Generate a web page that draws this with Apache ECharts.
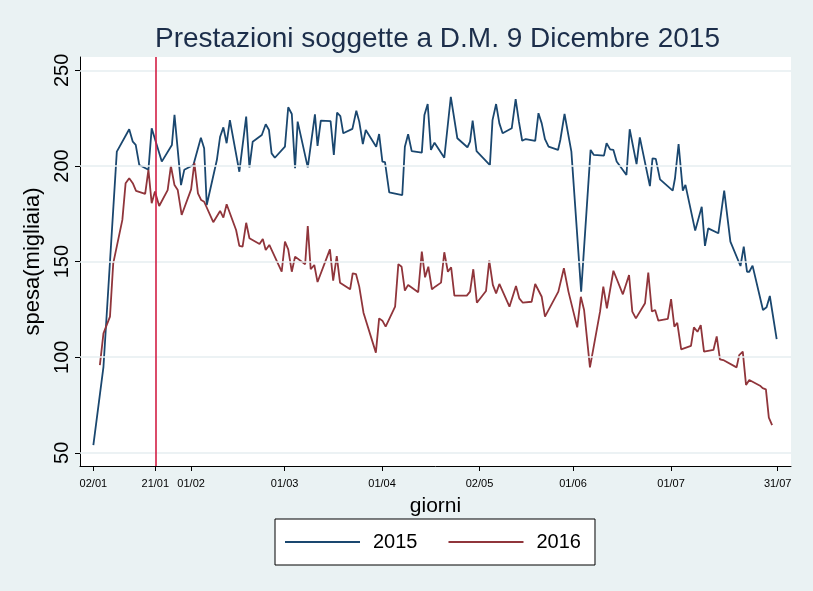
<!DOCTYPE html>
<html>
<head>
<meta charset="utf-8">
<script src="https://cdn.jsdelivr.net/npm/echarts@6/dist/echarts.min.js"></script>
<style>
html,body{margin:0;padding:0;background:#eaf2f3;}
#chart{width:813px;height:591px;}
</style>
</head>
<body>
<div id="chart"></div>
<script>
// ---- data ----
const days2015 = [2, 5.1, 9.2, 13.0, 14.1, 15.0, 16.1, 18.9, 19.9, 23.0, 26.1, 26.9, 28.9, 29.9, 32.7, 35.0, 36.0, 36.8, 39.9, 40.9, 41.9, 42.9, 43.9, 46.8, 48.9, 49.9, 50.9, 53.7, 54.9, 55.9, 56.7, 57.7, 60.8, 61.8, 62.9, 63.9, 64.7, 67.8, 70.0, 70.8, 71.8, 74.8, 75.8, 76.8, 77.8, 78.7, 81.5, 82.7, 83.6, 84.7, 85.6, 88.8, 89.7, 90.7, 91.5, 92.8, 96.8, 97.6, 98.6, 99.7, 102.8, 103.6, 104.6, 105.6, 106.7, 109.7, 111.7, 113.7, 116.8, 117.6, 118.4, 119.6, 123.7, 124.5, 125.6, 126.6, 127.6, 130.4, 131.6, 132.6, 133.6, 134.7, 137.6, 138.6, 139.6, 140.6, 141.7, 144.6, 145.3, 146.6, 148.7, 151.7, 154.6, 155.6, 158.7, 159.5, 160.6, 161.6, 162.6, 165.6, 166.6, 168.7, 169.7, 172.8, 173.6, 174.6, 175.9, 179.8, 180.5, 181.6, 182.9, 183.7, 186.7, 188.7, 189.7, 190.7, 193.8, 195.6, 197.5, 200.6, 201.6, 202.6, 203.3, 204.3, 207.5, 208.6, 209.6, 211.7];
const spesa2015 = [54, 95, 207.5, 219.2, 212.7, 211, 200.5, 198, 219.7, 202.3, 211, 226.7, 190, 198, 200.5, 214.8, 209.3, 179.6, 203.1, 215.3, 220.2, 211.9, 224, 197, 225.8, 199.3, 212.7, 216.2, 221.8, 218.8, 206.6, 204.3, 210.1, 230.7, 227.2, 198.8, 223.2, 199.3, 227, 210.5, 223.7, 223.5, 205.8, 227.9, 226.1, 217.1, 219.4, 228.9, 223.2, 211.5, 218.8, 210.1, 216.7, 202.3, 202, 186.2, 184.8, 210.1, 216.6, 207.8, 207, 226.7, 232.4, 208.4, 212.2, 204.3, 236.2, 214.5, 209.8, 212.7, 223.7, 207.8, 200.5, 224, 232.4, 222.3, 217.1, 219.7, 235, 223.2, 213.2, 214.1, 213.1, 227.6, 222.3, 214, 210.1, 208.4, 213.6, 227.2, 207.5, 134.3, 208.4, 205.8, 205.4, 211.9, 208.7, 208.4, 202.3, 195.3, 219.2, 201, 215, 189.5, 204, 203.7, 193, 187.1, 193.6, 211.5, 187.1, 190.1, 166.2, 178.7, 158.2, 167.4, 164.8, 187.1, 160.4, 147.7, 157.8, 144.7, 144.7, 147.9, 124.7, 126.1, 132, 109.5];

const days2016 = [4.0, 5.1, 7.1, 8.1, 10.9, 11.9, 13.0, 14.1, 15.1, 17.9, 18.9, 19.9, 20.9, 22.2, 24.8, 25.8, 26.9, 27.9, 29.1, 32.0, 33.0, 34.1, 35.1, 36.0, 38.8, 40.9, 41.9, 42.9, 45.8, 46.8, 47.8, 48.9, 49.9, 53.0, 54.0, 54.9, 56.0, 59.8, 60.8, 61.8, 62.9, 63.9, 67.0, 67.8, 68.7, 69.8, 70.8, 74.6, 75.6, 76.7, 77.7, 80.8, 81.6, 82.6, 83.6, 84.9, 88.7, 89.7, 90.7, 91.7, 94.6, 95.6, 96.6, 97.6, 98.6, 101.7, 102.8, 103.8, 104.8, 105.9, 106.9, 108.7, 109.7, 110.8, 111.8, 112.8, 116.6, 117.6, 118.6, 119.7, 122.5, 123.5, 124.6, 125.6, 126.6, 129.7, 131.7, 132.7, 133.8, 136.5, 137.6, 139.6, 140.6, 144.7, 146.4, 147.8, 150.5, 151.6, 152.6, 154.4, 157.5, 158.5, 159.6, 161.6, 164.5, 166.4, 167.4, 168.5, 171.3, 172.3, 173.4, 174.4, 175.4, 178.3, 179.3, 180.3, 181.2, 182.4, 185.4, 186.3, 187.4, 188.4, 189.4, 192.3, 193.3, 194.3, 195.3, 199.4, 200.2, 201.3, 202.3, 203.3, 206.6, 207.4, 208.4, 209.3, 210.3];
const spesa2016 = [95.9, 112.5, 121.2, 149.1, 171.8, 191, 193.6, 191, 187, 185.4, 198, 180.5, 186.6, 179.1, 187.4, 200, 190, 187.4, 174.4, 187.8, 201.7, 185.7, 182.2, 181.3, 170.6, 176.5, 173, 180, 166.5, 158.2, 157.8, 170.3, 162.2, 159.2, 161.8, 156.1, 158.7, 144.7, 160.4, 156.4, 144.7, 152.6, 148.6, 168.6, 146, 148.2, 139.3, 156.4, 140, 152.9, 139, 135.5, 143.9, 143.5, 136.9, 123.3, 102.4, 120.3, 119.1, 116, 126.4, 148.7, 147.3, 134.8, 137.8, 134, 155.2, 141.8, 147.3, 135.5, 136.9, 139, 154.9, 144.7, 147, 132.2, 132.2, 134.3, 146, 128.5, 134.6, 150.5, 137.8, 133.4, 138.3, 126.4, 137.2, 130.8, 128.5, 129, 138.3, 131.6, 121.2, 134.3, 146.5, 134.3, 115.6, 131.6, 124.7, 94.7, 123.8, 136.9, 125.6, 145.2, 132.9, 143, 123.8, 120.3, 128.2, 144.2, 123.9, 124.7, 119.1, 120, 130.4, 116, 118, 104.1, 105.9, 115.6, 113.3, 116.8, 102.9, 103.8, 110.9, 98.9, 98.5, 94.7, 101.1, 102.9, 85.5, 88.1, 85.1, 83.8, 83.2, 68.4, 64.5];

const xTickValues = [2, 21, 32, 60.7, 90.6, 120.5, 149.2, 179.3, 212];
const xTickLabels = ['02/01', '21/01', '01/02', '01/03', '01/04', '02/05', '01/06', '01/07', '31/07'];
const yTickValues = [50, 100, 150, 200, 250];
const refDay = 21; // 21/01

// ---- chart ----
const pairs = (xs, ys) => xs.map((x, i) => [x, ys[i]]);
const chart = echarts.init(document.getElementById('chart'));
const FONT = '"Liberation Sans", Arial, sans-serif';

chart.setOption({
  backgroundColor: '#eaf2f3',
  animation: false,
  title: {
    text: 'Prestazioni soggette a D.M. 9 Dicembre 2015',
    left: 150, top: 20,
    textStyle: { fontFamily: FONT, fontSize: 28, fontWeight: 'normal', color: '#1c2e4a' }
  },
  grid: { left: 80, right: 22, top: 57, bottom: 125, show: true, backgroundColor: '#ffffff', borderWidth: 0 },
  legend: {
    data: ['2015', '2016'],
    left: 275, top: 519,
    backgroundColor: '#ffffff', borderColor: '#000000', borderWidth: 1,
    padding: [13, 14, 13, 10],
    icon: 'rect', itemWidth: 75, itemHeight: 2, itemGap: 31,
    textStyle: { fontFamily: FONT, fontSize: 20, color: '#000', padding: [0, 0, 0, 8] }
  },
  xAxis: {
    type: 'value', min: -2.1, max: 216.1,
    name: 'giorni', nameLocation: 'middle', nameGap: 30,
    nameTextStyle: { fontFamily: FONT, fontSize: 21, color: '#000' },
    axisLine: { show: true, onZero: false, lineStyle: { color: '#000', width: 1 } },
    axisTick: { show: true, customValues: xTickValues, length: 5, lineStyle: { color: '#000' } },
    axisLabel: {
      customValues: xTickValues, margin: 12,
      fontFamily: FONT, fontSize: 11, color: '#000',
      formatter: v => { const i = xTickValues.findIndex(t => Math.abs(t - v) < 1e-6); return i >= 0 ? xTickLabels[i] : ''; }
    },
    splitLine: { show: false }
  },
  yAxis: {
    type: 'value', min: 43.1, max: 257,
    name: 'spesa(migliaia)', nameLocation: 'middle', nameGap: 27,
    nameTextStyle: { fontFamily: FONT, fontSize: 22, color: '#000' },
    axisLine: { show: true, onZero: false, lineStyle: { color: '#000', width: 1 } },
    axisTick: { show: true, customValues: yTickValues, length: 5, lineStyle: { color: '#000' } },
    axisLabel: { customValues: yTickValues, rotate: 90, margin: 8, fontFamily: FONT, fontSize: 20, color: '#000' },
    splitLine: { show: false }
  },
  series: [
    {
      name: 'grid', type: 'line', data: [], z: 1, silent: true,
      markLine: {
        silent: true, symbol: 'none', label: { show: false },
        lineStyle: { color: '#e6eef0', width: 1.5, type: 'solid' },
        data: yTickValues.map(v => ({ yAxis: v }))
      }
    },
    {
      name: '2015', type: 'line', data: pairs(days2015, spesa2015), z: 3,
      symbol: 'none', color: '#1a476f', lineStyle: { width: 1.8, color: '#1a476f' }
    },
    {
      name: '2016', type: 'line', data: pairs(days2016, spesa2016), z: 3,
      symbol: 'none', color: '#90353b', lineStyle: { width: 1.8, color: '#90353b' },
      markLine: {
        silent: true, symbol: 'none', label: { show: false },
        lineStyle: { color: '#d21f45', width: 1.6, type: 'solid' },
        data: [{ xAxis: refDay }]
      }
    }
  ]
});
</script>
</body>
</html>
